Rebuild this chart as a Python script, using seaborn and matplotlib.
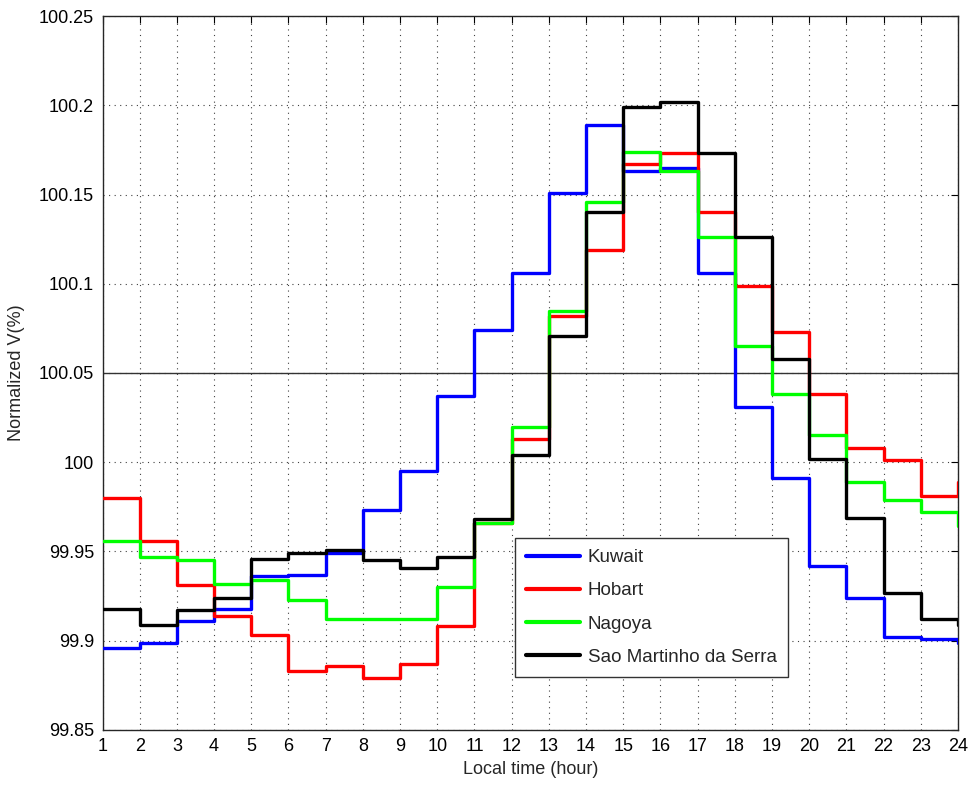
import numpy as np
import pandas as pd
import matplotlib
matplotlib.use("Agg")
import matplotlib.pyplot as plt
import seaborn as sns

# Hourly normalized voltage (%) per site, local time 1..24
hours = list(range(1, 25))
kuwait = [99.896, 99.899, 99.911, 99.918, 99.936, 99.937, 99.949, 99.973, 99.995, 100.037,
          100.074, 100.106, 100.151, 100.189, 100.163, 100.165, 100.106, 100.031, 99.991, 99.942,
          99.924, 99.902, 99.901, 99.899]
hobart = [99.980, 99.956, 99.931, 99.914, 99.903, 99.883, 99.886, 99.879, 99.887, 99.908,
          99.966, 100.013, 100.082, 100.119, 100.167, 100.173, 100.140, 100.099, 100.073, 100.038,
          100.008, 100.001, 99.981, 99.989]
nagoya = [99.956, 99.947, 99.945, 99.932, 99.934, 99.923, 99.912, 99.912, 99.912, 99.930,
          99.966, 100.020, 100.085, 100.146, 100.174, 100.163, 100.126, 100.065, 100.038, 100.015,
          99.989, 99.979, 99.972, 99.964]
sao_martinho = [99.918, 99.909, 99.917, 99.924, 99.946, 99.949, 99.951, 99.945, 99.941, 99.947,
                99.968, 100.004, 100.071, 100.140, 100.199, 100.202, 100.173, 100.126, 100.058, 100.002,
                99.969, 99.927, 99.912, 99.909]

sites = ["Kuwait", "Hobart", "Nagoya", "Sao Martinho da Serra"]
colors = ["#0000ff", "#ff0000", "#00ff00", "#000000"]
reference_level = 100.05

y_ticks = [99.85, 99.9, 99.95, 100.0, 100.05, 100.1, 100.15, 100.2, 100.25]
y_tick_labels = ["99.85", "99.9", "99.95", "100", "100.05", "100.1", "100.15", "100.2", "100.25"]

df = pd.DataFrame({
    "hour": hours * 4,
    "value": kuwait + hobart + nagoya + sao_martinho,
    "site": sum([[s] * len(hours) for s in sites], []),
})

sns.set_style("white")
plt.rcParams["font.family"] = ["Liberation Sans", "DejaVu Sans"]

fig = plt.figure(figsize=(9.7, 7.85), dpi=100)
ax = fig.add_axes([0.1057, 0.0701, 0.8819, 0.9095])

ax.axhline(reference_level, color="0.2", lw=1.0, zorder=1.5)

sns.lineplot(data=df, x="hour", y="value", hue="site", hue_order=sites,
             palette=colors, drawstyle="steps-post", linewidth=2.4,
             ax=ax, zorder=3)

ax.set_xlim(1, 24)
ax.set_ylim(99.85, 100.25)
ax.set_xticks(hours)
ax.set_xticklabels([str(h) for h in hours])
ax.set_yticks(y_ticks)
ax.set_yticklabels(y_tick_labels)

ax.grid(True, linestyle=(0, (1, 4)), color="0.25", linewidth=0.8)
ax.tick_params(direction="in", length=5, width=0.8, top=True, right=True,
               labelsize=13, colors="black", pad=6)
for sp in ax.spines.values():
    sp.set_color("0.15")
    sp.set_linewidth(1.0)
    sp.set_visible(True)

ax.set_xlabel("Local time (hour)", fontsize=13, labelpad=4)
ax.set_ylabel("Normalized V(%)", fontsize=13, labelpad=10)

handles, labels = ax.get_legend_handles_labels()
leg = ax.legend(handles, labels, loc="lower left", bbox_to_anchor=(0.482, 0.074),
                borderaxespad=0, fontsize=13.5, frameon=True, fancybox=False,
                framealpha=1, edgecolor="0.2", handlelength=2.9, handletextpad=0.4,
                labelspacing=0.86, borderpad=0.6)
leg.get_frame().set_linewidth(1.0)
for line in leg.get_lines():
    line.set_linewidth(3)

fig.savefig("out.png", dpi=100)
